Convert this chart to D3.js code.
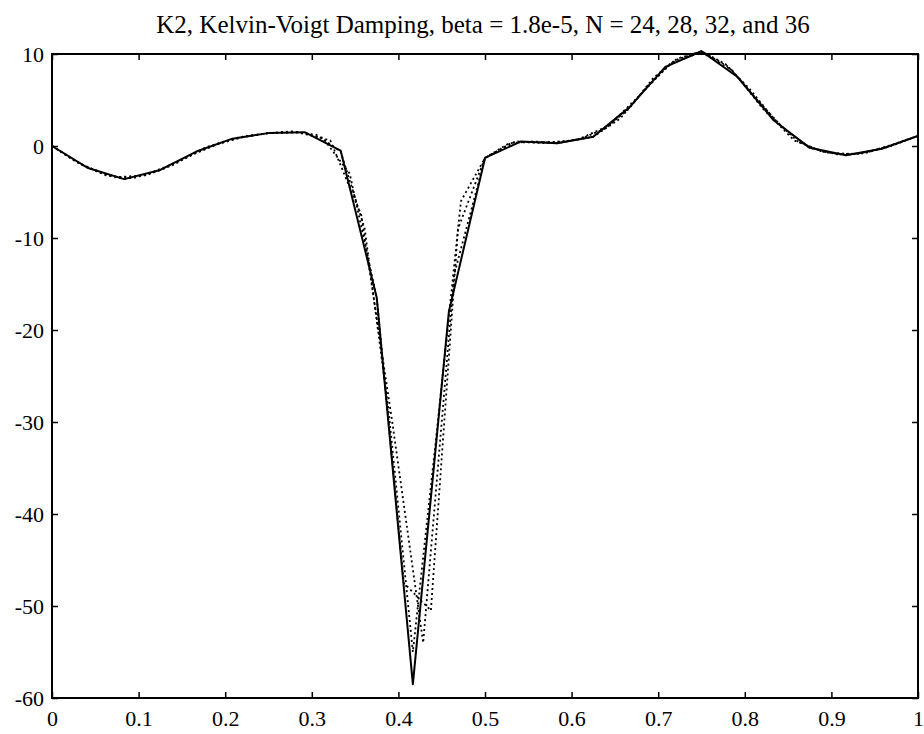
<!DOCTYPE html>
<html lang="en">
<head>
  <meta charset="UTF-8">
  <title>K2, Kelvin-Voigt Damping</title>
  <script src="https://d3js.org/d3.v7.min.js"></script>
  <style>
    body { margin: 0; background: #fff; }
    text { font-family: "Liberation Serif", "DejaVu Serif", serif; fill: #000; }
    .line { fill: none; stroke: #000; stroke-linejoin: round; }
  </style>
</head>
<body>
<svg width="924" height="734"></svg>
<script>
  // data
  const title = "K2, Kelvin-Voigt Damping, beta = 1.8e-5, N = 24, 28, 32, and 36";
  const xTicks = [0, 0.1, 0.2, 0.3, 0.4, 0.5, 0.6, 0.7, 0.8, 0.9, 1];
  const yTicks = [10, 0, -10, -20, -30, -40, -50, -60];

  const x24 = [0, .0417, .0833, .125, .1667, .2083, .25, .2917, .3333, .375, .4167, .4583, .5,
               .5417, .5833, .625, .6667, .7083, .75, .7917, .8333, .875, .9167, .9583, 1];
  const y24 = [0, -2.4, -3.6, -2.6, -0.6, 0.8, 1.4, 1.5, -0.5, -16.5, -58.5, -18, -1.3,
               0.5, 0.3, 1.0, 4.2, 8.6, 10.3, 7.5, 2.8, -0.2, -1.0, -0.3, 1.1];

  const x28 = [0, .0357, .0714, .1071, .1429, .1786, .2143, .25, .2857, .3214, .3571, .3929, .4286, .4643, .5,
               .5357, .5714, .6071, .6429, .6786, .7143, .75, .7857, .8214, .8571, .8929, .9286, .9643, 1];
  const y28 = [0, -2.1, -3.4, -3.2, -1.8, -0.1, 0.9, 1.4, 1.5, 0.6, -7.5, -30, -54, -14, -1.3,
               0.5, 0.3, 0.7, 2.2, 5.5, 9.0, 10.2, 8.2, 4.0, 0.6, -0.7, -0.9, -0.1, 1.1];

  const x32 = [0, .0313, .0625, .0938, .125, .1563, .1875, .2188, .25, .2813, .3125, .3438, .375, .4063, .4375, .4688, .5,
               .5313, .5625, .5938, .625, .6563, .6875, .7188, .75, .7813, .8125, .8438, .875, .9063, .9375, .9688, 1];
  const y32 = [0, -1.9, -3.2, -3.5, -2.6, -1.2, 0.1, 1.0, 1.4, 1.5, 0.9, -3, -16.5, -47.5, -50.5, -9, -1.3,
               0.4, 0.4, 0.5, 1.0, 3.0, 6.5, 9.3, 10.3, 8.6, 5.2, 2.0, -0.2, -0.9, -0.8, 0, 1.1];

  const x36 = [0, .0278, .0556, .0833, .1111, .1389, .1667, .1944, .2222, .25, .2778, .3056, .3333, .3611, .3889, .4167, .4444, .4722, .5,
               .5278, .5556, .5833, .6111, .6389, .6667, .6944, .7222, .75, .7778, .8056, .8333, .8611, .8889, .9167, .9444, .9722, 1];
  const y36 = [0, -1.7, -2.9, -3.6, -3.1, -2.1, -0.7, 0.3, 1.0, 1.4, 1.6, 1.2, -0.6, -9, -29, -55, -31, -6, -1.3,
               0.3, 0.5, 0.3, 0.8, 1.9, 4.1, 7.4, 9.5, 10.3, 8.9, 6.2, 3.0, 0.5, -0.6, -1.0, -0.6, 0.2, 1.1];

  const series = [
    { xs: x32, ys: y32, dash: "2,3" },
    { xs: x36, ys: y36, dash: "2,3" },
    { xs: x28, ys: y28, dash: "2,3" },
    { xs: x24, ys: y24, dash: null }
  ];

  let svg = d3.select("svg");
  let plotL = 52, plotR = 918, plotT = 54, plotB = 698;

  let x = d3.scaleLinear().domain([0, 1]).range([plotL, plotR]);
  let y = d3.scaleLinear().domain([-60, 10]).range([plotB, plotT]);

  // title
  svg.append("text")
     .attr("x", 483)
     .attr("y", 33)
     .attr("text-anchor", "middle")
     .attr("font-size", "25px")
     .text(title);

  // curves
  let line = d3.line()
     .x(function(d) { return x(d[0]); })
     .y(function(d) { return y(d[1]); });

  series.forEach(function(s) {
    svg.append("path")
       .datum(s.xs.map(function(v, i) { return [v, s.ys[i]]; }))
       .attr("class", "line")
       .attr("stroke-width", s.dash ? 1.8 : 2)
       .attr("stroke-dasharray", s.dash)
       .attr("d", line);
  });

  // axes, ticks point inward on all four sides; plain hyphen for minus
  let tickFmt = function(d) { return String(d); };

  svg.append("g")
     .attr("transform", "translate(0," + plotB + ")")
     .call(d3.axisBottom(x).tickValues(xTicks).tickSize(-6).tickPadding(12).tickFormat(tickFmt))
     .call(function(g) { g.select(".domain").remove(); })
     .call(function(g) { g.selectAll("text").attr("font-size", "22px").attr("font-family", "Liberation Serif"); });

  svg.append("g")
     .attr("transform", "translate(0," + plotT + ")")
     .call(d3.axisTop(x).tickValues(xTicks).tickSize(-6).tickFormat(""))
     .call(function(g) { g.select(".domain").remove(); });

  svg.append("g")
     .attr("transform", "translate(" + plotL + ",0)")
     .call(d3.axisLeft(y).tickValues(yTicks).tickSize(-6).tickPadding(8).tickFormat(tickFmt))
     .call(function(g) { g.select(".domain").remove(); })
     .call(function(g) { g.selectAll("text").attr("font-size", "22px").attr("font-family", "Liberation Serif"); });

  svg.append("g")
     .attr("transform", "translate(" + plotR + ",0)")
     .call(d3.axisRight(y).tickValues(yTicks).tickSize(-6).tickFormat(""))
     .call(function(g) { g.select(".domain").remove(); });

  svg.selectAll(".tick line").attr("stroke", "#000").attr("stroke-width", 1.5);

  // frame
  svg.append("rect")
     .attr("x", plotL)
     .attr("y", plotT)
     .attr("width", plotR - plotL)
     .attr("height", plotB - plotT)
     .attr("fill", "none")
     .attr("stroke", "#000")
     .attr("stroke-width", 2);
</script>
</body>
</html>
